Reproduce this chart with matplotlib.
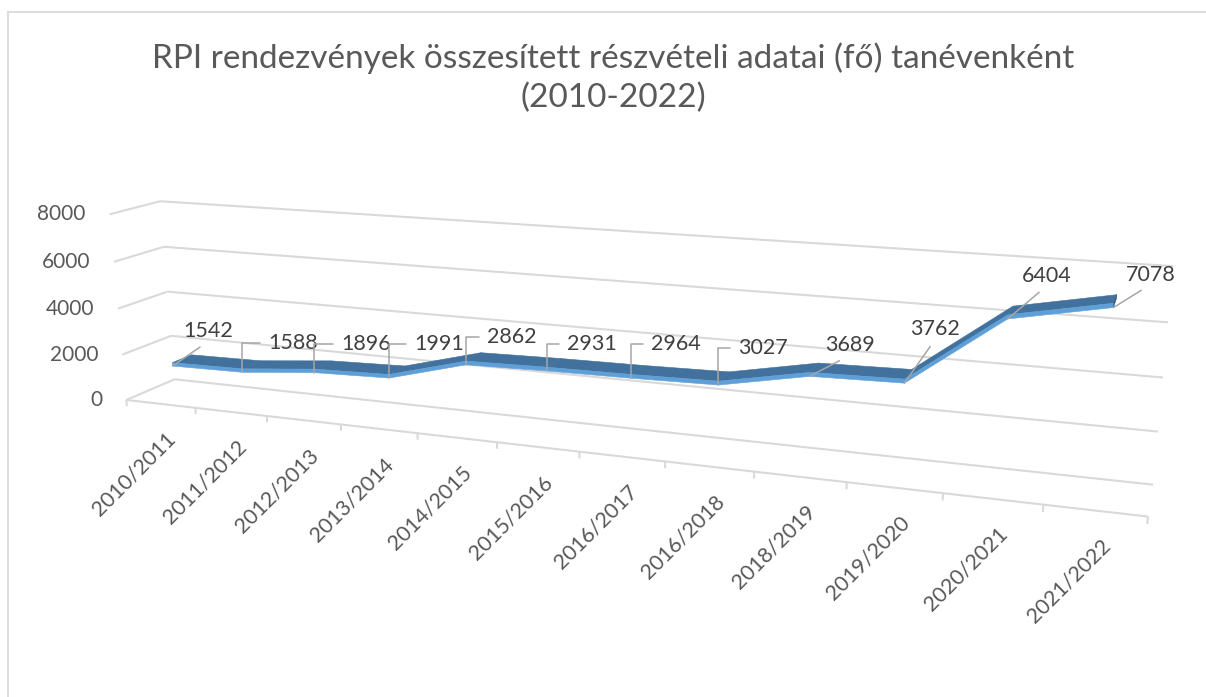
import numpy as np
import matplotlib
matplotlib.use("Agg")
import matplotlib.pyplot as plt
from matplotlib.patches import Rectangle
from mpl_toolkits.mplot3d.art3d import Poly3DCollection

plt.rcParams['font.family'] = ['Lato', 'DejaVu Sans']

# ---------------- data ----------------
categories = ["2010/2011", "2011/2012", "2012/2013", "2013/2014", "2014/2015",
              "2015/2016", "2016/2017", "2016/2018", "2018/2019", "2019/2020",
              "2020/2021", "2021/2022"]
values = [1542, 1588, 1896, 1991, 2862, 2931, 2964, 3027, 3689, 3762, 6404, 7078]
y_ticks = [0, 2000, 4000, 6000, 8000]
title = "RPI rendezvények összesített részvételi adatai (fő) tanévenként\n(2010-2022)"

# data-label placement (pixel offsets right/up from the point) and leader style
label_dx = [36, 51, 52, 50, 46, 45, 45, 45, 40, 31, 39, 37]
label_dy = [35, 29, 29, 34, 28, 27, 34, 37, 31, 54, 43, 33]
label_elbow = [False, True, True, True, True, True, True, True, False, False, False, False]

# ---------------- style ----------------
W, H = 1206, 697
TXT = '#595959'
LBL = '#404040'
GRID = '#d9d9d9'
TOP_C = '#41719c'
FRONT_C = '#5f9fd8'
CAP_C = '#345e86'

fig = plt.figure(figsize=(W / 100, H / 100), dpi=100)
fig.patch.set_facecolor('white')

# chart border
fig.patches.append(Rectangle((8 / W, -0.2), 1.5, 1.2 - 12 / H, transform=fig.transFigure,
                             fill=False, ec=GRID, lw=1.3))

fig.text(613 / W, 1 - 42 / H, title, ha='center', va='top', fontsize=24,
         color=TXT, linespacing=1.38)

# 3D axes with a perspective camera (Excel-like 3-D rotation)
S = 601.46
ax = fig.add_axes([306.67 / W, 5.24 / H, S / W, S / H], projection='3d',
                  proj_type='persp', focal_length=0.49747)
ax.view_init(elev=15.81, azim=-69.51, roll=0.22)
ax.set_box_aspect((1, 1, 1))
ax.set_axis_off()

ncat = len(categories)
xs = np.arange(ncat) + 0.5
vals = np.array(values, dtype=float)

grid_kw = dict(color=GRID, lw=1.5, clip_on=False, solid_capstyle='butt')
for v in y_ticks:
    ax.plot([0, ncat], [1, 1], [v, v], **grid_kw)   # back wall
    ax.plot([0, 0], [0, 1], [v, v], **grid_kw)      # side wall
ax.plot([0, ncat], [0, 0], [0, 0], **grid_kw)       # floor front edge
tick_len = 270
for k in range(ncat + 1):
    ax.plot([k, k], [0, 0], [0, -tick_len], **grid_kw)

# ribbon (3D line)
y0, y1 = 0.3, 0.7
th = 150
polys, cols = [], []
for i in range(ncat - 1):
    xa, xb = xs[i], xs[i + 1]
    za, zb = vals[i], vals[i + 1]
    polys.append([(xa, y0, za), (xb, y0, zb), (xb, y1, zb), (xa, y1, za)])
    cols.append(TOP_C)
    polys.append([(xa, y0, za - th), (xb, y0, zb - th), (xb, y0, zb), (xa, y0, za)])
    cols.append(FRONT_C)
polys.append([(xs[-1], y0, vals[-1] - th), (xs[-1], y1, vals[-1] - th),
              (xs[-1], y1, vals[-1]), (xs[-1], y0, vals[-1])])
cols.append(CAP_C)
pc = Poly3DCollection(polys, facecolors=cols, edgecolors=cols, linewidths=0.4)
pc.set_clip_on(False)
ax.add_collection3d(pc)

# view box (centre and half-ranges) of the camera
ax.set_xlim(6.2424 - 1.99829, 6.2424 + 1.99829)
ax.set_ylim(-1.5, 2.5)
ax.set_zlim(2359.08 - 6928.12, 2359.08 + 6928.12)


def project(x, y, z):
    M = ax.get_proj()
    x = np.asarray(x, float); y = np.asarray(y, float); z = np.asarray(z, float)
    vec = np.vstack([x, y, z, np.ones_like(x)])
    out = M @ vec
    return out[0] / out[3], out[1] / out[3]


# value-axis labels
tx, ty = project(np.zeros(len(y_ticks)), np.zeros(len(y_ticks)), y_ticks)
for v, a, b in zip(y_ticks, tx, ty):
    ax.annotate(f"{v}", xy=(a, b), xycoords='data', xytext=(-24, 0),
                textcoords='offset pixels', ha='right', va='center',
                fontsize=15, color=TXT, annotation_clip=False)

# category labels
cx, cy = project(xs, np.zeros(ncat), np.zeros(ncat))
for c, a, b in zip(categories, cx, cy):
    ax.annotate(c, xy=(a, b), xycoords='data', xytext=(5, -25),
                textcoords='offset pixels', ha='right', va='top', rotation=45,
                rotation_mode='anchor', fontsize=15.5, color=TXT, annotation_clip=False)

# data labels with leader lines
px, py = project(xs, np.full(ncat, y0), vals - th)
for i in range(ncat):
    if label_elbow[i]:
        ap = dict(arrowstyle='-', color='#a6a6a6', lw=1.1, shrinkA=4, shrinkB=0,
                  relpos=(0, 0.5), connectionstyle='angle,angleA=0,angleB=90,rad=0')
    else:
        ap = dict(arrowstyle='-', color='#a6a6a6', lw=1.1, shrinkA=4, shrinkB=0,
                  relpos=(0.5, 0), connectionstyle='arc3')
    ax.annotate(str(values[i]), xy=(px[i], py[i]), xycoords='data',
                xytext=(label_dx[i], label_dy[i]), textcoords='offset pixels',
                ha='center', va='center', fontsize=15.5, color=LBL,
                arrowprops=ap, annotation_clip=False, zorder=20)

fig.savefig('out.png', dpi=100)
